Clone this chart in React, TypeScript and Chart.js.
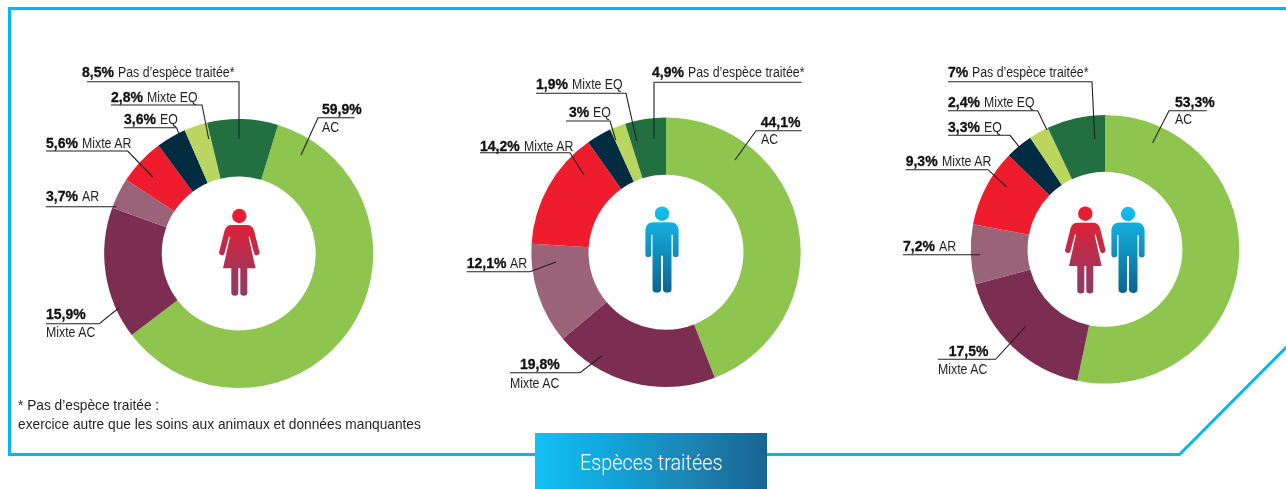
import React, { useEffect, useRef } from "react";
import { Chart, registerables } from "chart.js";

Chart.register(...registerables);

const categories = ["AC", "Mixte AC", "AR", "Mixte AR", "EQ", "Mixte EQ", "Pas d’espèce traitée*"];
const colours = ["#8DC54F", "#7B2E52", "#9A6377", "#EE1C2D", "#012B40", "#BBD660", "#22703F"];
const womenValues = [59.9, 15.9, 3.7, 5.6, 3.6, 2.8, 8.5];
const menValues = [44.1, 19.8, 12.1, 14.2, 3, 1.9, 4.9];
const allValues = [53.3, 17.5, 7.2, 9.3, 3.3, 2.4, 7];

const INK = "#231F20";
const BLUE = "#06B6F2";

type Ann = { x: number; y: number; cx?: number; cy?: number; line: number[][] };

const womenAnn: Ann[] = [
  { x: 322, y: 114, cx: 322, cy: 132, line: [[354.5, 117.7], [318, 117.7], [301, 155]] },
  { x: 46, y: 319, cx: 46, cy: 337, line: [[46, 323.7], [99.3, 323.7], [118.7, 308]] },
  { x: 46, y: 201, line: [[46, 206.7], [116.7, 206.7]] },
  { x: 46, y: 148, line: [[46, 151], [127.7, 151], [152.7, 177]] },
  { x: 124, y: 124, line: [[124, 127.7], [176.7, 127.7], [184, 149]] },
  { x: 111, y: 102, line: [[111, 105], [202, 105], [208.7, 139]] },
  { x: 82, y: 77, line: [[87, 81.7], [239, 81.7], [239, 139]] },
];
const menAnn: Ann[] = [
  { x: 760.7, y: 126.7, cx: 760.7, cy: 144, line: [[801.7, 130.7], [756, 130.7], [735, 160]] },
  { x: 520, y: 368.7, cx: 510, cy: 387.7, line: [[510, 372.7], [580, 372.7], [601.7, 356]] },
  { x: 466.7, y: 268, line: [[466.7, 271.7], [530, 271.7], [556, 262]] },
  { x: 480, y: 150.7, line: [[480, 152.7], [570, 152.7], [584, 175]] },
  { x: 569, y: 117, line: [[566, 121], [610, 121], [615.7, 140]] },
  { x: 536, y: 89, line: [[536, 93.3], [626, 93.3], [636.7, 141]] },
  { x: 652, y: 77, line: [[801.7, 82.3], [654, 82.3], [654, 139]] },
];
const allAnn: Ann[] = [
  { x: 1175, y: 107, cx: 1175, cy: 124, line: [[1206.7, 110.7], [1169, 110.7], [1152.7, 142.7]] },
  { x: 948.7, y: 356, cx: 938, cy: 373.7, line: [[938, 359.3], [995.7, 359.3], [1026, 326]] },
  { x: 903, y: 251, line: [[903, 254.7], [980, 254.7]] },
  { x: 905.7, y: 165.7, line: [[905.7, 169.7], [988, 169.7], [1006.7, 187]] },
  { x: 948, y: 132, line: [[948, 135.3], [1010, 135.3], [1020, 148]] },
  { x: 948, y: 107, line: [[948, 110.7], [1037.7, 110.7], [1047, 130]] },
  { x: 948, y: 77, line: [[948, 81.7], [1092, 81.7], [1094.7, 139]] },
];

const BOX = 300;
const panels = [
  { values: womenValues, ann: womenAnn, cx: 238.7, cy: 253.5, r: 134.5, hole: 77, rotation: 17 },
  { values: menValues, ann: menAnn, cx: 666, cy: 252.2, r: 134.7, hole: 77.5, rotation: 0 },
  { values: allValues, ann: allAnn, cx: 1105, cy: 249.3, r: 134.3, hole: 77.5, rotation: 0 },
];

const fmt = (v: number) => String(v).replace(".", ",") + "%";

function Donut({ values, cx, cy, r, hole, rotation }: any) {
  const ref = useRef<HTMLCanvasElement>(null);
  const left = Math.floor(cx - BOX / 2);
  const top = Math.floor(cy - BOX / 2);
  useEffect(() => {
    const chart = new Chart(ref.current!, {
      type: "doughnut",
      data: {
        labels: categories,
        datasets: [{ data: values, backgroundColor: colours, borderWidth: 0 }],
      },
      options: {
        responsive: false,
        animation: false,
        events: [],
        rotation,
        radius: r,
        cutout: `${(hole / r) * 100}%`,
        layout: {
          padding: { left: 2 * (cx - BOX / 2 - left), top: 2 * (cy - BOX / 2 - top), right: 0, bottom: 0 },
        },
        plugins: { legend: { display: false }, tooltip: { enabled: false }, title: { display: false } },
      },
    } as any);
    return () => chart.destroy();
  }, []);
  return (
    <canvas
      ref={ref}
      width={BOX}
      height={BOX}
      style={{ position: "absolute", left, top, width: BOX, height: BOX, display: "block" }}
    />
  );
}

const textBase: React.CSSProperties = {
  position: "absolute",
  fontFamily: '"Liberation Sans", Arial, sans-serif',
  fontSize: 14,
  lineHeight: "16px",
  color: INK,
  whiteSpace: "nowrap",
};

const strong: React.CSSProperties = { fontWeight: 700, color: "#111", WebkitTextStroke: "0.3px #111" };

function Narrow({ text, x, y, scale = 0.88, size = 14 }: { text: string; x: number; y: number; scale?: number; size?: number }) {
  return (
    <span
      style={{
        ...textBase,
        fontSize: size,
        left: x,
        top: y - 13,
        transform: `scaleX(${scale})`,
        transformOrigin: "0 0",
      }}
    >
      {text}
    </span>
  );
}

function Labels({ values, ann }: { values: number[]; ann: Ann[] }) {
  return (
    <>
      {ann.map((a, i) => {
        const stacked = a.cx !== undefined;
        return (
          <React.Fragment key={i}>
            {stacked ? (
              <>
                <span style={{ ...textBase, ...strong, left: a.x, top: a.y - 13 }}>{fmt(values[i])}</span>
                <Narrow text={categories[i]} x={a.cx!} y={a.cy!} />
              </>
            ) : (
              <span style={{ ...textBase, left: a.x, top: a.y - 13 }}>
                <span style={strong}>{fmt(values[i])}</span>
                <span
                  style={{
                    display: "inline-block",
                    marginLeft: 4,
                    transform: "scaleX(0.88)",
                    transformOrigin: "0 0",
                  }}
                >
                  {categories[i]}
                </span>
              </span>
            )}
          </React.Fragment>
        );
      })}
    </>
  );
}

const WOMAN =
  "M-8 9H8C11 9 13.2 10.5 14.6 14L20 35.5A2.8 2.8 0 0 1 14.9 37.8L10.3 20.6L9.3 21L16.3 52.3H8V77A3.5 2.7 0 0 1 1 77V52.3H-1V77A3.5 2.7 0 0 1 -8 77V52.3H-16.3L-9.3 21L-10.3 20.6L-14.9 37.8A2.8 2.8 0 0 1 -20 35.5L-14.6 14C-13.2 10.5 -11 9 -8 9Z";
const MAN =
  "M-8 8.6H8C13.5 8.6 16.6 12 16.6 17V40.5A2.9 2.9 0 0 1 10.8 40.5V21H9.5V75.5A4.25 3.4 0 0 1 1 75.5V42H-1V75.5A4.25 3.4 0 0 1 -9.5 75.5V21H-10.8V40.5A2.9 2.9 0 0 1 -16.6 40.5V17C-16.6 12 -13.5 8.6 -8 8.6Z";

function Figure({ x, y, kind }: { x: number; y: number; kind: "w" | "m" }) {
  const fill = kind === "w" ? "url(#gw)" : "url(#gm)";
  return (
    <g transform={`translate(${x} ${y})`}>
      <circle cx={0} cy={0} r={7.2} fill={fill} />
      <path d={kind === "w" ? WOMAN : MAN} fill={fill} />
    </g>
  );
}

export default function App() {
  return (
    <div style={{ position: "absolute", left: 0, top: 0, width: 1286, height: 489, overflow: "hidden", background: "#fff" }}>
      {panels.map((p, i) => (
        <Donut key={i} {...p} />
      ))}
      <svg width={1286} height={489} style={{ position: "absolute", left: 0, top: 0 }}>
        <defs>
          <linearGradient id="gw" gradientUnits="userSpaceOnUse" x1="0" y1="-7" x2="0" y2="80">
            <stop offset="0" stopColor="#EE1C2E" />
            <stop offset="1" stopColor="#8A3C68" />
          </linearGradient>
          <linearGradient id="gm" gradientUnits="userSpaceOnUse" x1="0" y1="-7" x2="0" y2="80">
            <stop offset="0" stopColor="#17BFF0" />
            <stop offset="1" stopColor="#0A6490" />
          </linearGradient>
          <linearGradient id="gb" x1="0" y1="0" x2="1" y2="0">
            <stop offset="0" stopColor="#14C0F5" />
            <stop offset="0.35" stopColor="#11A3D6" />
            <stop offset="0.65" stopColor="#1C86B5" />
            <stop offset="1" stopColor="#196392" />
          </linearGradient>
        </defs>
        <polyline
          points="1290,343.5 1179.5,454.5 9.5,454.5 9.5,8.5 1290,8.5"
          fill="none"
          stroke={BLUE}
          strokeWidth={3}
          strokeLinejoin="miter"
        />
        <rect x={535} y={433} width={232} height={56} fill="url(#gb)" />
        {panels.map((p, i) =>
          p.ann.map((a, j) => (
            <polyline
              key={`${i}-${j}`}
              points={a.line.map((q) => q.join(",")).join(" ")}
              fill="none"
              stroke={INK}
              strokeWidth={1.1}
            />
          ))
        )}
        <Figure x={239.3} y={216} kind="w" />
        <Figure x={662} y={213.7} kind="m" />
        <Figure x={1085.3} y={213.7} kind="w" />
        <Figure x={1128} y={214} kind="m" />
      </svg>
      {panels.map((p, i) => (
        <Labels key={i} values={p.values} ann={p.ann} />
      ))}
      <Narrow text="* Pas d’espèce traitée :" x={18} y={410} scale={0.915} size={15} />
      <Narrow text="exercice autre que les soins aux animaux et données manquantes" x={18} y={429} scale={0.915} size={15} />
      <span
        style={{
          position: "absolute",
          left: 580,
          top: 449,
          fontFamily: "Roboto, sans-serif",
          fontWeight: 300,
          fontSize: 22,
          lineHeight: "28px",
          color: "#fff",
          whiteSpace: "nowrap",
          transform: "scaleX(0.9)",
          transformOrigin: "0 0",
        }}
      >
        Espèces traitées
      </span>
    </div>
  );
}
